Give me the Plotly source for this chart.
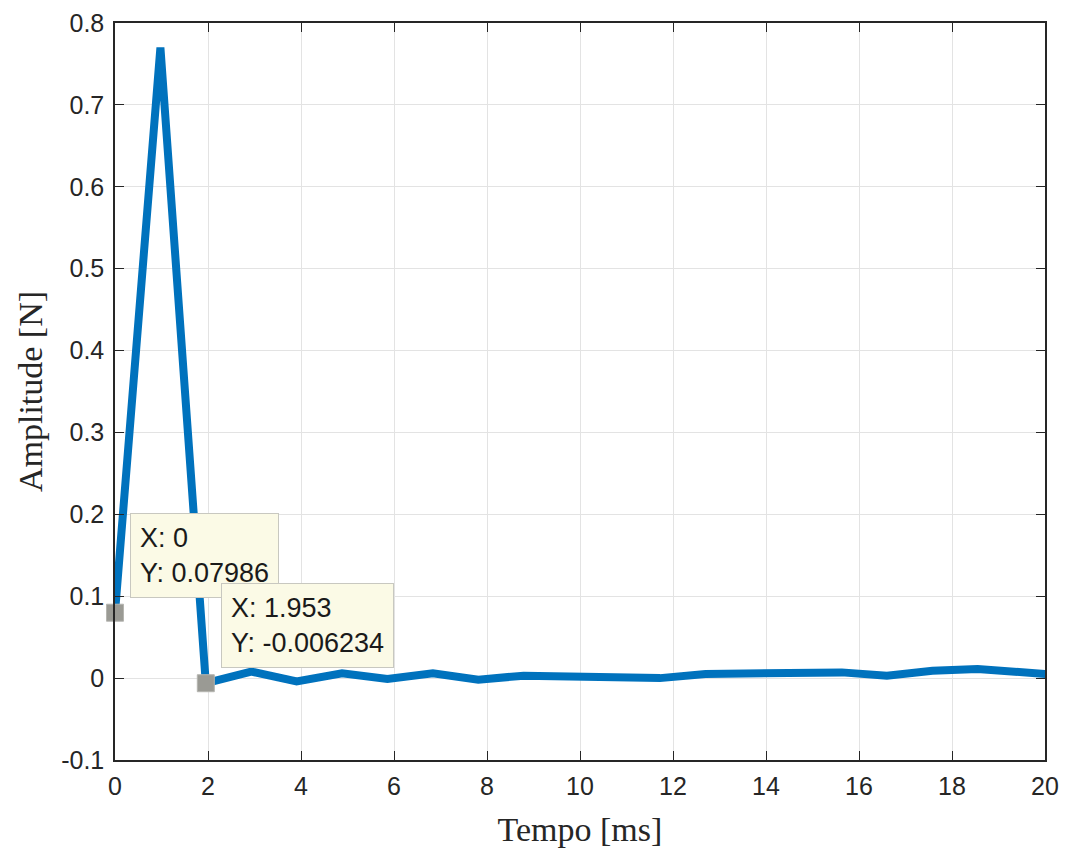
import plotly.graph_objects as go

# sample times [ms]
tempo = [0.0, 0.9766, 1.953, 2.93, 3.906, 4.883, 5.859, 6.836, 7.813, 8.789,
         9.766, 10.74, 11.72, 12.7, 13.67, 14.65, 15.63, 16.6, 17.58, 18.55,
         19.53, 20.51]
amplitude = [0.07986, 0.770, -0.006234, 0.008, -0.004, 0.006, -0.001, 0.006,
             -0.002, 0.003, 0.002, 0.002, 0.000, 0.005, 0.005, 0.005, 0.007,
             0.003, 0.009, 0.011, 0.006, 0.003]

tip_x = [0.0, 1.953]
tip_y = [0.07986, -0.006234]
tip_text = ["X: 0<br>Y: 0.07986", "X: 1.953<br>Y: -0.006234"]

x_ticks = [0, 2, 4, 6, 8, 10, 12, 14, 16, 18, 20]
y_ticks = [-0.1, 0, 0.1, 0.2, 0.3, 0.4, 0.5, 0.6, 0.7, 0.8]
y_tick_text = ["-0.1", "0", "0.1", "0.2", "0.3", "0.4", "0.5", "0.6", "0.7", "0.8"]

fig = go.Figure()
fig.add_trace(go.Scatter(x=tempo, y=amplitude, mode="lines",
                         line=dict(color="#0072BD", width=8),
                         hoverinfo="skip", showlegend=False))
fig.add_trace(go.Scatter(x=tip_x, y=tip_y, mode="markers",
                         marker=dict(symbol="square", size=17, color="#9a9a94",
                                     line=dict(color="#b5b5b0", width=1)),
                         cliponaxis=False, showlegend=False, hoverinfo="skip"))

for tx, ty, tt in zip(tip_x, tip_y, tip_text):
    fig.add_annotation(x=tx, y=ty, text=tt, showarrow=False,
                       xanchor="left", yanchor="bottom", align="left",
                       xshift=15, yshift=15,
                       font=dict(family="Liberation Sans, Arial", size=27, color="#1a1a1a"),
                       bgcolor="#fbfae6", bordercolor="#c8c8c0", borderwidth=1,
                       borderpad=9)

axis_common = dict(showline=True, linecolor="#262626", linewidth=1.5,
                   mirror="ticks", ticks="inside", ticklen=9, tickwidth=1.2,
                   tickcolor="#262626", showgrid=True, gridcolor="#e3e3e3",
                   gridwidth=1, zeroline=False, automargin=False,
                   tickfont=dict(family="Liberation Sans, Arial", size=25, color="#262626"))

fig.update_xaxes(range=[0, 20], tickvals=x_ticks, ticklabelstandoff=3,
                 title=dict(text="Tempo [ms]", standoff=18,
                            font=dict(family="Liberation Serif, Times New Roman", size=34, color="#262626")),
                 **axis_common)
fig.update_yaxes(range=[-0.1, 0.8], tickvals=y_ticks, ticktext=y_tick_text,
                 ticklabelstandoff=4,
                 title=dict(text="Amplitude [N]", standoff=8,
                            font=dict(family="Liberation Serif, Times New Roman", size=34, color="#262626")),
                 **axis_common)

fig.update_layout(width=1065, height=849,
                  margin=dict(l=115, r=20, t=23, b=89),
                  paper_bgcolor="white", plot_bgcolor="white")

fig.write_html("out.html")
